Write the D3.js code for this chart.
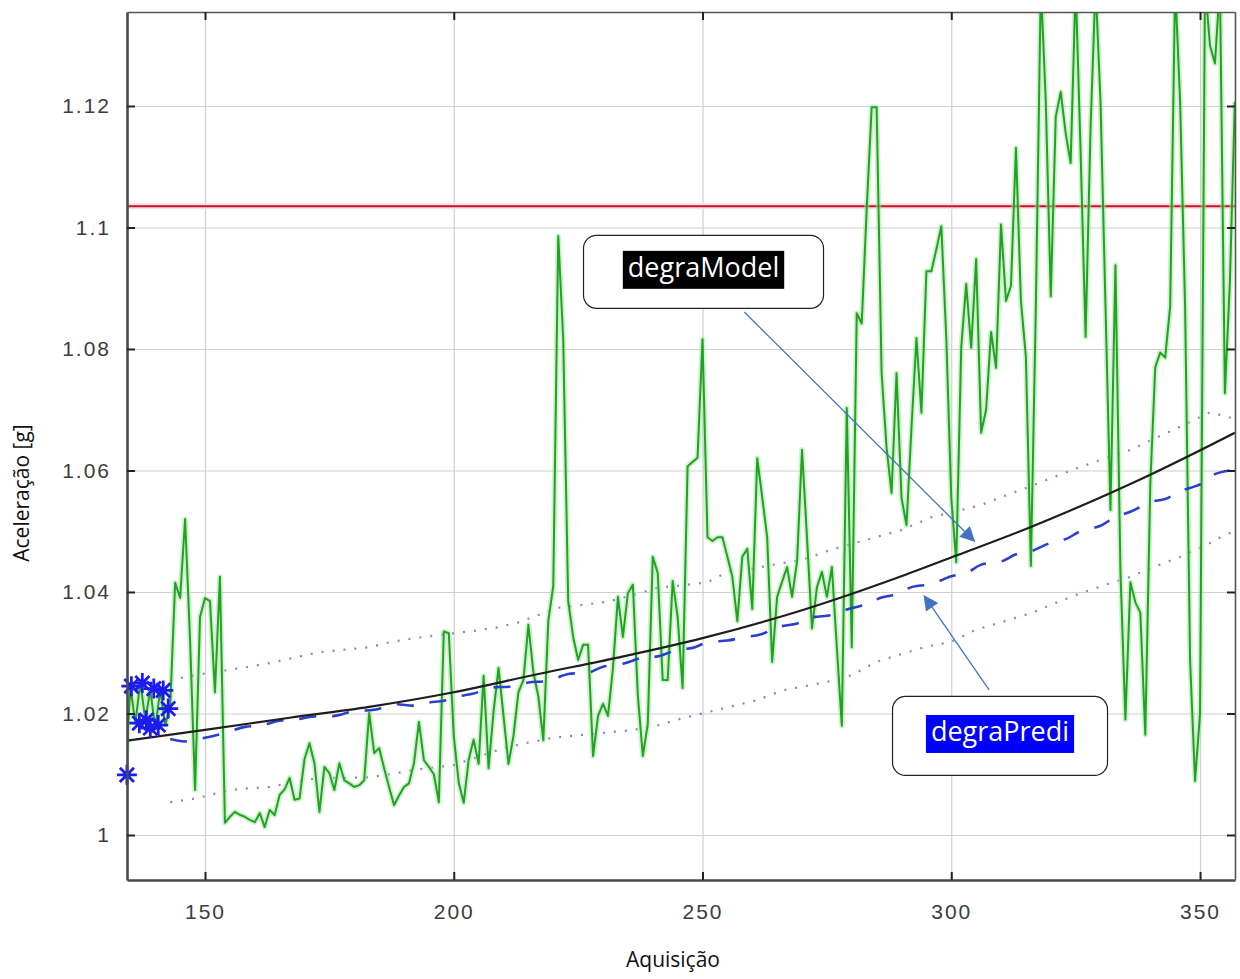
<!DOCTYPE html>
<html>
<head>
<meta charset="utf-8">
<script src="https://cdn.jsdelivr.net/npm/d3@7"></script>
<style>
body { margin: 0; background: #fff; }
svg { display: block; }
.tick text { font-family: "Liberation Sans", Arial, sans-serif; font-size: 21px; fill: #3c3c3c; letter-spacing: 2px; }
.grid line { stroke: #d0d0d0; stroke-width: 1.2; }
.grid path { display: none; }
</style>
</head>
<body>
<div id="chart"></div>
<script>
// values

// axis ticks
var xTicks = [150, 200, 250, 300, 350];
var yTicks = [1, 1.02, 1.04, 1.06, 1.08, 1.1, 1.12];

// alarm threshold (red line)
var limiar = 1.1035;

// measured acceleration, one value per acquisition starting at 134
var acqStart = 134;
var medido = [
  1.0099, 1.0244, 1.0184, 1.0252, 1.0189, 1.0239, 1.0176, 1.0239, 1.0181, 1.0211,
  1.0415, 1.0390, 1.0520, 1.0320, 1.0074, 1.0359, 1.0390, 1.0385, 1.0235, 1.0425,
  1.0020, 1.0030, 1.0038, 1.0033, 1.0030, 1.0025, 1.0021, 1.0036, 1.0013, 1.0041,
  1.0033, 1.0066, 1.0075, 1.0094, 1.0058, 1.0060, 1.0125, 1.0151, 1.0118, 1.0038,
  1.0112, 1.0102, 1.0074, 1.0118, 1.0090, 1.0085, 1.0079, 1.0082, 1.0090, 1.0201,
  1.0135, 1.0143, 1.0110, 1.0079, 1.0049, 1.0065, 1.0079, 1.0085, 1.0118, 1.0186,
  1.0123, 1.0112, 1.0100, 1.0054, 1.0335, 1.0332, 1.0163, 1.0086, 1.0053, 1.0124,
  1.0157, 1.0117, 1.0262, 1.0110, 1.0203, 1.0275, 1.0196, 1.0117, 1.0163, 1.0235,
  1.0255, 1.0346, 1.0268, 1.0228, 1.0156, 1.0352, 1.0410, 1.0986, 1.0816, 1.0385,
  1.0326, 1.0288, 1.0313, 1.0313, 1.0130, 1.0196, 1.0216, 1.0196, 1.0275, 1.0392,
  1.0326, 1.0398, 1.0412, 1.0230, 1.0130, 1.0183, 1.0458, 1.0431, 1.0255, 1.0255,
  1.0418, 1.0359, 1.0242, 1.0607, 1.0614, 1.0621, 1.0816, 1.0490, 1.0484, 1.0490,
  1.0490, 1.0458, 1.0425, 1.0352, 1.0458, 1.0471, 1.0372, 1.0620, 1.0556, 1.0490,
  1.0285, 1.0392, 1.0417, 1.0441, 1.0392, 1.0450, 1.0634, 1.0490, 1.0340, 1.0408,
  1.0433, 1.0392, 1.0441, 1.0309, 1.0180, 1.0703, 1.0309, 1.0859, 1.0842, 1.1030,
  1.1198, 1.1198, 1.0760, 1.0637, 1.0563, 1.0760, 1.0555, 1.0510, 1.0670, 1.0818,
  1.0695, 1.0928, 1.0928, 1.0964, 1.1002, 1.0818, 1.0555, 1.0449, 1.0802, 1.0907,
  1.0802, 1.0948, 1.0662, 1.0700, 1.0828, 1.0769, 1.1005, 1.0879, 1.0904, 1.1131,
  1.0879, 1.0787, 1.0443, 1.0870, 1.1400, 1.1207, 1.0887, 1.1182, 1.1223, 1.1155,
  1.1106, 1.1400, 1.1123, 1.0820, 1.1164, 1.1400, 1.1207, 1.0870, 1.0535, 1.0938,
  1.0435, 1.0190, 1.0416, 1.0383, 1.0366, 1.0165, 1.0576, 1.0770, 1.0794, 1.0786,
  1.0870, 1.1400, 1.1207, 1.0870, 1.0288, 1.0089, 1.0200, 1.1400, 1.1300, 1.1270,
  1.1400, 1.0727, 1.0910, 1.1207
];

// first acquisitions (blue stars)
var starAcq = [134.3, 135.2, 136.8, 137.4, 138.2, 139.0, 139.7, 140.6, 141.6, 142.6];
var starVal = [1.0099, 1.0245, 1.0184, 1.0250, 1.0189, 1.0176, 1.0241, 1.0181, 1.0238, 1.0208];

// degraModel (black curve)
var modelAcq = [134, 150, 167, 183, 200, 217, 233, 250, 270, 289, 301, 316, 332, 340, 357];
var modelVal = [1.0155, 1.0173, 1.0193, 1.0211, 1.0235, 1.0265, 1.0292, 1.0324, 1.0370, 1.0423, 1.0460, 1.0507, 1.0563, 1.0593, 1.0662];

// degraPredi (blue dashed)
var predAcq = [143, 146, 150, 154, 158, 161, 165, 168, 172, 176, 180, 184, 188, 192, 195, 198,
  201, 204, 208, 211, 215, 219, 223, 227, 230, 234, 238, 241, 245, 248, 251, 255, 258, 262,
  265, 269, 272, 276, 279, 283, 286, 289, 292, 296, 300, 303, 306, 310, 313, 316, 320, 323,
  326, 330, 333, 336, 340, 343, 346, 350, 353, 356];
var predVal = [1.0158, 1.0154, 1.0160, 1.0168, 1.0178, 1.0180, 1.0188, 1.0190, 1.0195, 1.0196,
  1.0204, 1.0206, 1.0215, 1.0213, 1.0218, 1.0221, 1.0228, 1.0233, 1.0243, 1.0244, 1.0251,
  1.0254, 1.0265, 1.0267, 1.0277, 1.0282, 1.0292, 1.0294, 1.0305, 1.0308, 1.0317, 1.0320,
  1.0325, 1.0331, 1.0342, 1.0348, 1.0358, 1.0362, 1.0371, 1.0380, 1.0391, 1.0396, 1.0408,
  1.0413, 1.0426, 1.0431, 1.0445, 1.0450, 1.0462, 1.0467, 1.0481, 1.0487, 1.0500, 1.0509,
  1.0524, 1.0532, 1.0548, 1.0553, 1.0566, 1.0577, 1.0594, 1.0600];

// upper and lower limits (blue dotted)
var upperAcq = [143, 146, 150, 155, 159, 163, 168, 173, 178, 183, 187, 192, 196, 200, 204, 209,
  213, 217, 221, 226, 231, 236, 241, 246, 251, 255, 261, 265, 270, 276, 283, 290, 296, 301,
  306, 310, 314, 320, 326, 331, 336, 341, 346, 352, 357];
var upperVal = [1.0255, 1.0260, 1.0266, 1.0272, 1.0277, 1.0283, 1.0292, 1.0301, 1.0305, 1.0309,
  1.0317, 1.0324, 1.0328, 1.0332, 1.0336, 1.0342, 1.0350, 1.0362, 1.0374, 1.0379, 1.0384,
  1.0395, 1.0407, 1.0411, 1.0416, 1.0433, 1.0440, 1.0446, 1.0453, 1.0470, 1.0486, 1.0502,
  1.0523, 1.0533, 1.0543, 1.0556, 1.0568, 1.0587, 1.0606, 1.0620, 1.0634, 1.0653, 1.0672,
  1.0696, 1.0685];
var lowerAcq = [143, 148, 152, 155, 159, 163, 168, 173, 178, 183, 188, 192, 196, 200, 205, 210,
  215, 220, 225, 230, 235, 240, 245, 251, 256, 261, 266, 270, 275, 280, 285, 290, 295, 300,
  305, 310, 316, 321, 326, 331, 336, 341, 346, 351, 355, 357];
var lowerVal = [1.0054, 1.0060, 1.0068, 1.0074, 1.0077, 1.0079, 1.0087, 1.0094, 1.0094, 1.0095,
  1.0101, 1.0107, 1.0111, 1.0115, 1.0129, 1.0143, 1.0152, 1.0160, 1.0164, 1.0168, 1.0172,
  1.0178, 1.0190, 1.0202, 1.0212, 1.0222, 1.0238, 1.0244, 1.0252, 1.0263, 1.0285, 1.0298,
  1.0310, 1.0318, 1.0338, 1.0350, 1.0365, 1.0382, 1.0398, 1.0412, 1.0425, 1.0442, 1.0458,
  1.0476, 1.0494, 1.0500];

// callouts: label box centre and arrow start/end, in data units
var callouts = [
  {text: "degraModel", bg: "#000000", box: [250.2, 1.0927], from: [258.4, 1.0861], to: [304.6, 1.0484], bw: 240, bh: 73},
  {text: "degraPredi", bg: "#0000ff", box: [309.8, 1.0163], from: [307.6, 1.0239], to: [294.6, 1.0393], bw: 215, bh: 79}
];

var W = 1240, H = 979;
var m = {left: 127, right: 5, top: 12, bottom: 99};
var w = W - m.left - m.right;
var h = H - m.top - m.bottom;

var svg = d3.select("#chart").append("svg")
  .attr("width", W)
  .attr("height", H);

var g = svg.append("g")
  .attr("transform", "translate(" + m.left + "," + m.top + ")");

var x = d3.scaleLinear().domain([134.32, 357.03]).range([0, w]);
var y = d3.scaleLinear().domain([0.99259, 1.13547]).range([h, 0]);

var fmtY = function(d) { return String(+d.toFixed(2)); };

// grid
g.append("g").attr("class", "grid")
  .attr("transform", "translate(0," + h + ")")
  .call(d3.axisBottom(x).tickValues(xTicks).tickSize(-h).tickFormat(""));
g.append("g").attr("class", "grid")
  .call(d3.axisLeft(y).tickValues(yTicks).tickSize(-w).tickFormat(""));

var defs = svg.append("defs");
defs.append("clipPath").attr("id", "plotclip")
  .append("rect").attr("width", w).attr("height", h);
defs.append("marker")
  .attr("id", "seta")
  .attr("viewBox", "0 0 10 10")
  .attr("refX", 9).attr("refY", 5)
  .attr("markerWidth", 17).attr("markerHeight", 15)
  .attr("markerUnits", "userSpaceOnUse")
  .attr("orient", "auto")
  .append("path").attr("d", "M0,0 L10,5 L0,10 z").attr("fill", "#4472c4");

var plot = g.append("g").attr("clip-path", "url(#plotclip)");

// red threshold
plot.append("line")
  .attr("x1", 0).attr("x2", w)
  .attr("y1", y(limiar)).attr("y2", y(limiar))
  .attr("stroke", "#f7dede").attr("stroke-width", 6);
plot.append("line")
  .attr("x1", 0).attr("x2", w)
  .attr("y1", y(limiar)).attr("y2", y(limiar))
  .attr("stroke", "#c8102e").attr("stroke-width", 2);

// dotted limits
var pairLine = d3.line()
  .x(function(d) { return x(d[0]); })
  .y(function(d) { return y(d[1]); });

[[upperAcq, upperVal], [lowerAcq, lowerVal]].forEach(function(s) {
  plot.append("path")
    .datum(d3.zip(s[0], s[1]))
    .attr("d", pairLine)
    .attr("fill", "none")
    .attr("stroke", "#5050c8")
    .attr("stroke-width", 2.2)
    .attr("stroke-dasharray", "2,9")
    .attr("opacity", 0.7);
});

// measured signal
var medLine = d3.line()
  .x(function(d, i) { return x(acqStart + i); })
  .y(function(d) { return y(d); });

plot.append("path")
  .datum(medido)
  .attr("d", medLine)
  .attr("fill", "none")
  .attr("stroke", "#9be89b")
  .attr("stroke-width", 5.5)
  .attr("stroke-linejoin", "round")
  .attr("opacity", 0.5);
plot.append("path")
  .datum(medido)
  .attr("d", medLine)
  .attr("fill", "none")
  .attr("stroke", "#24a024")
  .attr("stroke-width", 2)
  .attr("stroke-linejoin", "round");

// prediction dashed
plot.append("path")
  .datum(d3.zip(predAcq, predVal))
  .attr("d", pairLine.curve(d3.curveCatmullRom))
  .attr("fill", "none")
  .attr("stroke", "#2a3ed0")
  .attr("stroke-width", 2.6)
  .attr("stroke-dasharray", "17,16");

// model curve
plot.append("path")
  .datum(d3.zip(modelAcq, modelVal))
  .attr("d", d3.line()
    .curve(d3.curveMonotoneX)
    .x(function(d) { return x(d[0]); })
    .y(function(d) { return y(d[1]); }))
  .attr("fill", "none")
  .attr("stroke", "#1e1e1e")
  .attr("stroke-width", 2.2);

// stars
function starPath(r) {
  var p = "";
  for (var k = 0; k < 4; k++) {
    var a = k * Math.PI / 4;
    p += "M" + (-r * Math.cos(a)) + "," + (-r * Math.sin(a)) + "L" + (r * Math.cos(a)) + "," + (r * Math.sin(a));
  }
  return p;
}
g.append("g").selectAll("path")
  .data(d3.zip(starAcq, starVal))
  .enter().append("path")
  .attr("transform", function(d) { return "translate(" + x(d[0]) + "," + y(d[1]) + ")"; })
  .attr("d", starPath(10))
  .attr("stroke", "#1c1cf0")
  .attr("stroke-width", 2.8);

// axes: ticks inside
var axB = g.append("g").attr("transform", "translate(0," + h + ")")
  .call(d3.axisBottom(x).tickValues(xTicks).tickSizeInner(-8).tickSizeOuter(0).tickPadding(24));
var axL = g.append("g")
  .call(d3.axisLeft(y).tickValues(yTicks).tickFormat(fmtY).tickSizeInner(-8).tickSizeOuter(0).tickPadding(16));
var axT = g.append("g")
  .call(d3.axisTop(x).tickValues(xTicks).tickSizeInner(-8).tickSizeOuter(0).tickFormat(""));
var axR = g.append("g").attr("transform", "translate(" + w + ",0)")
  .call(d3.axisRight(y).tickValues(yTicks).tickSizeInner(-8).tickSizeOuter(0).tickFormat(""));

[axB, axL].forEach(function(a) {
  a.select(".domain").attr("stroke", "#4a4a4a").attr("stroke-width", 2.6);
  a.selectAll(".tick line").attr("stroke", "#222").attr("stroke-width", 2);
});
[axT, axR].forEach(function(a) {
  a.select(".domain").attr("stroke", "#555").attr("stroke-width", 1.6);
  a.selectAll(".tick line").attr("stroke", "#222").attr("stroke-width", 2);
});

// axis titles
svg.append("text")
  .attr("transform", "translate(29,493) rotate(-90)")
  .attr("text-anchor", "middle")
  .style("font-family", "'Open Sans', Lato, sans-serif")
  .style("font-size", "21px")
  .attr("fill", "#111")
  .text("Aceleração [g]");

svg.append("text")
  .attr("x", 673).attr("y", 967)
  .attr("text-anchor", "middle")
  .style("font-family", "'Open Sans', Lato, sans-serif")
  .style("font-size", "21px")
  .attr("fill", "#111")
  .text("Aquisição");

// callouts
callouts.forEach(function(c) {
  var ann = g.append("g");
  ann.append("line")
    .attr("x1", x(c.from[0])).attr("y1", y(c.from[1]))
    .attr("x2", x(c.to[0])).attr("y2", y(c.to[1]))
    .attr("stroke", "#4472c4")
    .attr("stroke-width", 1.3)
    .attr("marker-end", "url(#seta)");
  var cx = x(c.box[0]), cy = y(c.box[1]);
  ann.append("rect")
    .attr("x", cx - c.bw / 2).attr("y", cy - c.bh / 2)
    .attr("width", c.bw).attr("height", c.bh)
    .attr("rx", 13)
    .attr("fill", "#fff")
    .attr("stroke", "#222")
    .attr("stroke-width", 1.2);
  var bg = ann.append("rect").attr("fill", c.bg);
  var t = ann.append("text")
    .attr("x", cx).attr("y", cy - 2)
    .attr("text-anchor", "middle")
    .attr("dominant-baseline", "middle")
    .style("font-family", "'Open Sans', Lato, sans-serif")
    .style("font-size", "27px")
    .attr("fill", "#fff")
    .text(c.text);
  var bb = t.node().getBBox();
  bg.attr("x", bb.x - 5).attr("y", cy - 2 - 19)
    .attr("width", bb.width + 10).attr("height", 38);
});
</script>
</body>
</html>
